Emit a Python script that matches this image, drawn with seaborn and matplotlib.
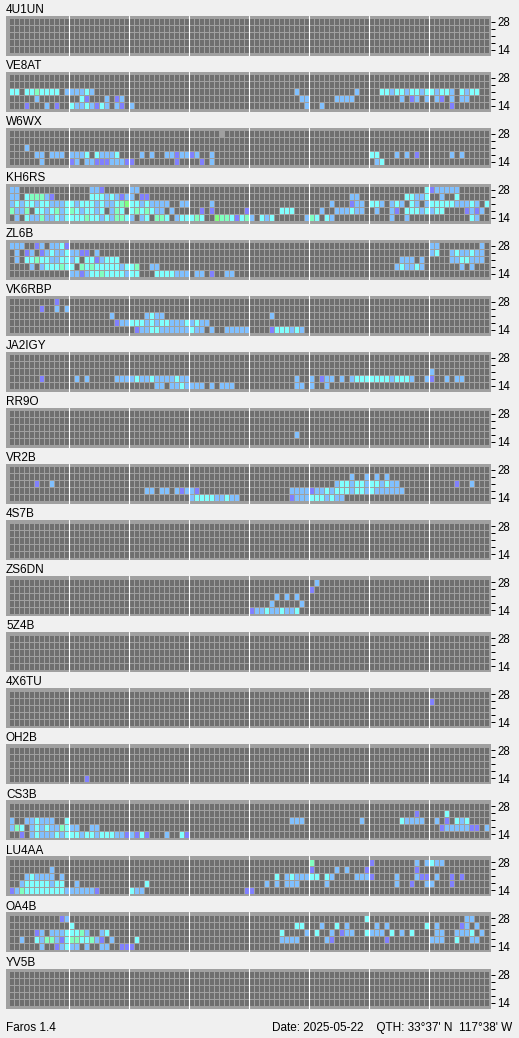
import numpy as np
import matplotlib
matplotlib.use("Agg")
import matplotlib.pyplot as plt
import seaborn as sns
from matplotlib.colors import ListedColormap

# ---------------- data ----------------
# rows: 28, 24, 21, 18, 14 MHz (top to bottom); 96 quarter-hour slots, written in 8 groups of 12
# '.' none, 'p' level1, 'b' level2, 'c' level3, 'm' level4, 'g' level5, 'x' other
stations = ["4U1UN", "VE8AT", "W6WX", "KH6RS", "ZL6B", "VK6RBP", "JA2IGY", "RR9O", "VR2B",
            "4S7B", "ZS6DN", "5Z4B", "4X6TU", "OH2B", "CS3B", "LU4AA", "OA4B", "YV5B"]
band_labels = ["28", "", "", "", "14"]

E = "............ ............ ............ ............ ............ ............ ............ ............"

B_4U1UN = [E, E, E, E, E]
B_VE8AT = [
    E,
    E,
    "cc.ccmcccc.b bbbcb....... ............ ............ .........b.. .........b.. ..ccbccbccbc cbccb.cbcc..",
    ".....b...... ..cp...b.pb. ............ ............ ..........bb .....bbbb... ......b.pb.b .bp.b.bb....",
    "...p...b.p.. cbbcbpcb.bp. b........... ............ ...........b ..b......... ............ ....p.......",
]
B_W6WX = [
    "............ ............ ............ ......x..... ............ ............ ............ ............",
    E,
    "...b........ ............ ............ ............ ............ ............ ............ ............",
    ".....bb.bbb. bbbc.cbbbc.. ..b.b..bbpbb pb..b....... ............ ............ cc...b.b.p.. ....b.b.....",
    "......b..... pb.bbpppbbbp p........p.. ..p.b....... ............ ............ .bc......... ............",
]
B_KH6RS = [
    "bb.......... ....bbp..... bb.......... ............ ............ ............ ...........c pbbbbb......",
    "bb.cmmmbp... ....cccbcbpb b.pp........ ............ ............ ........bb.. .......ccbbc ..b..c......",
    "bcbccbccbbbc cbcccbcbbcmg ccbcbbbb..bb ....b....... ............ ....b...pbb. ccb.bcb.cb.b cccccbbbcb.c",
    "mbbm.ccbcmbc mcbccbc.bmc. cmcmcbb.b... ..p.p......p ......ccc... ..b..bbbcbb. .b..bp.cccbc bcc....pbpb.",
    ".b.cbbmbbcbc cccmccbcbmmc b.bc.mmc.bcc cmc..gmmcpcm b.cbc......b mc.cb....... ....b..b.... ........cb..",
]
B_ZL6B = [
    "bbb..pb.bbcp ............ ............ ............ ............ ............ ............ bb........b.",
    ".b.pb.pbcbbc bbpp.b...... ............ ............ ............ ............ ............ bc..bcbbcbb.",
    ".b.ccmccbbcc bc.ccpbccc.. ............ ............ ............ ............ ......bbb.b. ....bbccbbb.",
    "....b.bcccmc c.mcmcccccbc cm..bb...... ............ ............ ............ .....bcbbcb. ......b.b...",
    "............ bbpbccmccccb cc...ccccbbb .bb.p..bb... ............ ............ ............ ............",
]
B_VK6RBP = [
    ".........p.. ............ ............ ............ ............ ............ ............ ............",
    "......p..b.b ............ ............ ............ ............ ............ ............ ............",
    "............ ........b... ...bcbb..... ............ ....b....... ............ ............ ............",
    "............ .........pbb cccbcbccbbbc bcbb........ ............ ............ ............ ............",
    "............ ............ .pbbccbbbbbb cbb.b..bbbbb ....pcccbcb. ............ ............ ............",
]
B_JA2IGY = [
    E,
    E,
    "............ ............ ............ ............ ............ ............ ............ b...........",
    "......p..... .b.b.....bbb bcbbcbbbbcbb ............ .........b.. b.pbb.b.bccc ccccbcccb..b p..b.bb.....",
    "............ ............ .....bb.bbcb bbb.b.bbb... .........bb. b..b........ ............ ............",
]
B_RR9O = [E, E, E,
    "............ ............ ............ ............ .........b.. ............ ............ ............",
    E]
B_VR2B = [
    E,
    "............ ............ ............ ............ ............ ........b..b .b.b........ ............",
    ".....p..b... ............ ............ ............ ............ .....bccbccb ccbcbb...... .....p..b...",
    "............ ............ ...bb.bb.bpb bp.......... ........bbbb pbbcbcccbccb cbbbbbb..... ............",
    "............ ............ ............ bccccbbcbb.. ........pbbb cccbcbb..... ............ ............",
]
B_4S7B = [E, E, E, E, E]
B_ZS6DN = [
    "............ ............ ............ ............ ............ .b.......... ............ ............",
    "............ ............ ............ ............ ............ p........... ............ ............",
    "............ ............ ............ ............ .....b.b.b.. ............ ............ ............",
    "............ ............ ............ ............ ....b.....b. ............ ............ ............",
    "............ ............ ............ ............ pbbcbbcbbc.. ............ ............ ............",
]
B_5Z4B = [E, E, E, E, E]
B_4X6TU = [E,
    "............ ............ ............ ............ ............ ............ ............ p...........",
    E, E, E]
B_OH2B = [E, E, E, E,
    "............ ...p........ ............ ............ ............ ............ ............ ............"]
B_CS3B = [
    E,
    "............ ............ ............ ............ ............ ............ .........p.. ...c........",
    "b..bbcbbb..c ............ ............ ............ ........bbb. ..........b. ......cbbbb. .b.p.cbc....",
    "bmc.bcbcbbmc bb..bb...... ............ ............ ............ ............ ............ ..pbbbbbpp.b",
    "..p.bcbbbcbc ccbccbcccbbp bpcp...b..cp ............ ............ ............ ............ ............",
]
B_LU4AA = [
    "............ ............ ............ ............ ............ m........... p........b.b cbb.........",
    "........b... ............ ............ ............ ............ p....b.b...p .........p.. ............",
    "...bcbbbb.b. ............ ............ ............ .....c.bcbbb cc.cb....bbb p....b...bpp .b..p.p.....",
    "..bcccccbcc. .b.......... ...c........ ............ ...b.b.bbb.. ...b........ .....b..p..b b...p.......",
    "pbmccccccccb bbbbbp...... cbb......... ...........p p........... ............ ............ ............",
]
B_OA4B = [
    "..........pb ............ ............ ............ ............ ...........c ............ .......bb...",
    "............ c........... ............ ............ .........cc. ..b..c.b.... .b.b.......c .b....pb.b..",
    ".....pb.bbbc ccmb..bc.... ............ ............ ......c....b .c..b.pbb..c bbb.c.b.c... .bb..bbbc.b.",
    "..b..cbmmbpc mmccmbp.b... .c.......... ............ ......bbbb.. ...bp....... ...p........ bbb..c..bb..",
    "......b..pbc bb.b..bb..pp p........... ............ ............ ............ ............ ............",
]
B_YV5B = [E, E, E, E, E]

grids = [B_4U1UN, B_VE8AT, B_W6WX, B_KH6RS, B_ZL6B, B_VK6RBP, B_JA2IGY, B_RR9O, B_VR2B,
         B_4S7B, B_ZS6DN, B_5Z4B, B_4X6TU, B_OH2B, B_CS3B, B_LU4AA, B_OA4B, B_YV5B]

level_codes = ".pbcmgx"
level_colors = ["#6f6f6f", "#8080ff", "#80c0ff", "#80ffff", "#80ffc0", "#80ff80", "#a0a0a0"]


def parse_row(r):
    groups = r.split()
    groups = [(g + "." * 12)[:12] for g in groups] + ["." * 12] * (8 - len(groups))
    s = "".join(groups[:8])
    return [level_codes.index(ch) if ch in level_codes else 0 for ch in s]


# ---------------- drawing ----------------
W, H = 519, 1038
DPI = 100
sns.set_theme(style="white")
plt.rcParams['font.family'] = ['Liberation Sans', 'DejaVu Sans']

fig = plt.figure(figsize=(W / DPI, H / DPI), dpi=DPI)
fig.patch.set_facecolor("#f0f0f0")
cmap = ListedColormap(level_colors)
px = 72.0 / DPI  # one pixel in points

panel_left, panel_w, panel_h = 6, 485, 40
top0, pitch = 15.5, 56.06

for i, (name, rows) in enumerate(zip(stations, grids)):
    mat = np.array([parse_row(r) for r in rows])
    top = top0 + pitch * i
    ax = fig.add_axes([panel_left / W, 1 - (top + panel_h) / H, panel_w / W, panel_h / H])
    ax.set_facecolor("#a0a0a0")
    sns.heatmap(mat, ax=ax, cmap=cmap, vmin=-0.5, vmax=len(level_colors) - 0.5, cbar=False,
                linewidths=1 * px, linecolor="#a0a0a0", xticklabels=False, yticklabels=False)
    for k in range(12, 96, 12):
        ax.axvline(k, color="white", lw=1.1 * px, zorder=5)
    ax.set_xlim(-0.5, 96.5)
    ax.set_ylim(5 + 2.5 / 7, -2.5 / 7)
    for s in ax.spines.values():
        s.set_visible(False)
    ax.set_xticks([])
    ax.yaxis.tick_right()
    ax.set_yticks(np.arange(5) + 0.5)
    ax.set_yticklabels(band_labels)
    ax.tick_params(axis="y", which="both", right=True, left=False, length=4 * px,
                   width=1 * px, color="black", pad=1.5, labelsize=8.3, labelcolor="black",
                   direction="out")
    fig.text(6 / W, 1 - (top - 2.8) / H, name, ha="left", va="baseline", fontsize=8.5, color="black")

fig.text(6 / W, 1 - 1031 / H, "Faros 1.4", ha="left", va="baseline", fontsize=8.5, color="black")
fig.text(512 / W, 1 - 1031 / H, "Date: 2025-05-22    QTH: 33\u00b037' N  117\u00b038' W",
         ha="right", va="baseline", fontsize=8.5, color="black")

fig.savefig("out.png", dpi=DPI, facecolor=fig.get_facecolor())
